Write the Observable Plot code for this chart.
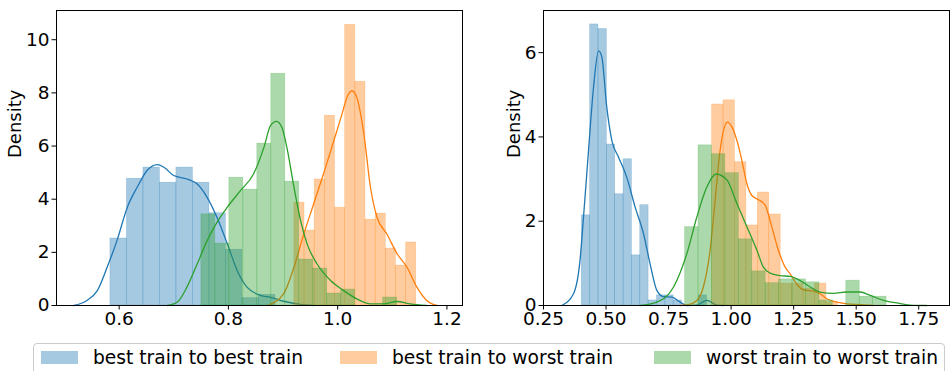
<!DOCTYPE html>
<html><head><meta charset="utf-8">
<script src="https://cdn.jsdelivr.net/npm/d3@7"></script>
<script src="https://cdn.jsdelivr.net/npm/@observablehq/plot@0.6"></script>
<style>
body{margin:0;background:#fff;font-family:"DejaVu Sans",sans-serif;}
#wrap{position:relative;width:950px;height:371px;overflow:hidden;background:#fff;}
#left{position:absolute;left:0;top:0;}
#right{position:absolute;left:475px;top:0;}
#legendBox{position:absolute;left:33px;top:343px;width:912px;height:44px;border:1px solid #cccccc;border-radius:4px;box-sizing:border-box;background:#fff;}
.sw{position:absolute;top:351px;width:37px;height:13px;}
.lt{position:absolute;top:347px;line-height:21px;font-size:18.67px;color:#000;white-space:nowrap;font-family:"DejaVu Sans";}
</style></head>
<body><div id="wrap"><div id="left"></div><div id="right"></div><div id="legendBox"></div></div>
<script>
// ---------- series names & colours ----------
const seriesNames = ["best train to best train", "best train to worst train", "worst train to worst train"];
const seriesColors = ["#1f77b4", "#ff7f0e", "#2ca02c"];

// ---------- left panel: histograms (bin start, bin width, densities) ----------
const L_blueStart = 0.584, L_blueWidth = 0.0302;
const L_blueHeights = [2.52, 4.77, 5.19, 4.62, 5.19, 4.62, 3.47, 2.10, 0.28, 0.40];
const L_orangeStart = 0.9207, L_orangeWidth = 0.0186;
const L_orangeHeights = [3.87, 2.82, 4.74, 7.14, 3.68, 10.56, 8.42, 3.23, 3.46, 2.14, 1.50, 2.37];
const L_greenStart = 0.7505, L_greenWidth = 0.0256;
const L_greenHeights = [3.43, 2.33, 4.81, 4.36, 6.09, 8.72, 4.66, 1.73, 1.39, 0.45, 0.60, 0, 0, 0.30];

// ---------- left panel: KDE curves ----------
const L_blueKdeX = [0.517,0.541,0.560,0.578,0.596,0.615,0.633,0.651,0.670,0.682,0.700,0.724,0.743,0.761,0.779,0.798,0.816,0.834,0.859,0.877,0.901,0.932,0.956];
const L_blueKdeY = [0,0.19,0.56,1.44,2.44,3.70,4.45,5.08,5.30,5.20,4.89,4.76,4.57,4.07,3.32,2.32,1.32,0.69,0.38,0.31,0.16,0.04,0];
const L_orangeKdeX = [0.871,0.901,0.920,0.938,0.956,0.974,0.993,1.008,1.017,1.026,1.035,1.048,1.060,1.072,1.090,1.109,1.127,1.145,1.163,1.182];
const L_orangeKdeY = [0,0.44,1.44,2.69,3.82,4.95,6.20,7.21,7.83,8.08,7.83,6.45,4.45,3.32,2.69,1.94,1.44,0.69,0.19,0];
const L_greenKdeX = [0.688,0.706,0.724,0.743,0.761,0.779,0.798,0.822,0.846,0.865,0.877,0.888,0.898,0.907,0.920,0.932,0.944,0.962,0.987,1.011,1.035,1.060,1.084,1.109,1.133,1.163];
const L_greenKdeY = [0,0.12,0.69,1.57,2.44,3.13,3.70,4.32,4.95,5.95,6.77,6.93,6.70,5.95,4.45,3.20,2.32,1.57,0.94,0.56,0.25,0.06,0.06,0.15,0.06,0];

// ---------- right panel: histograms ----------
const R_blueStart = 0.403, R_blueWidth = 0.0334;
const R_blueHeights = [2.14, 6.67, 6.56, 3.82, 2.64, 3.47, 1.19, 2.38, 0.12, 0.24, 0.24, 0.12, 0, 0, 0.24];
const R_orangeStart = 0.924, R_orangeWidth = 0.0457;
const R_orangeHeights = [4.77, 4.87, 3.40, 1.90, 2.68, 2.16, 0.52, 0.52, 0.40, 0.52, 0.08];
const R_greenStart = 0.816, R_greenWidth = 0.0537;
const R_greenHeights = [1.86, 3.80, 3.59, 3.14, 1.57, 0.81, 0.53, 0.62, 0.62, 0.55, 0.12, 0, 0.59, 0.21, 0.21];

// ---------- right panel: KDE curves ----------
const R_blueKdeX = [0.323,0.370,0.396,0.410,0.430,0.450,0.470,0.483,0.503,0.523,0.550,0.583,0.616,0.650,0.676,0.703,0.730,0.763,0.796,0.823,0.863,0.903,0.943,0.969];
const R_blueKdeY = [0,0.28,1.07,2.10,3.68,5.18,6.04,5.90,4.70,3.92,3.52,3.04,2.34,1.70,0.99,0.36,0.21,0.20,0.08,0,0.01,0.12,0.01,0];
const R_orangeKdeX = [0.796,0.829,0.863,0.889,0.916,0.936,0.956,0.976,0.985,1.003,1.023,1.043,1.063,1.083,1.109,1.136,1.163,1.189,1.216,1.236,1.262,1.289,1.329,1.356,1.382,1.422,1.462,1.516,1.569];
const R_orangeKdeY = [0,0.02,0.12,0.44,1.31,2.49,3.68,4.28,4.35,4.24,3.92,3.44,2.89,2.61,2.51,2.38,1.86,1.31,0.91,0.75,0.51,0.37,0.34,0.28,0.16,0.08,0.04,0.02,0];
const R_greenKdeX = [0.636,0.703,0.770,0.823,0.863,0.903,0.940,0.983,1.023,1.063,1.103,1.129,1.156,1.196,1.236,1.276,1.316,1.356,1.409,1.462,1.516,1.556,1.609,1.662,1.715,1.782];
const R_greenKdeY = [0,0.08,0.44,1.23,2.10,2.81,3.12,2.98,2.42,1.87,1.31,0.91,0.77,0.71,0.69,0.59,0.44,0.32,0.29,0.32,0.32,0.24,0.12,0.06,0.01,0];

// ---------- axes ----------
const L_xDomain = [0.4853, 1.2285], L_yDomain = [0, 11.1];
const L_xTicks = [0.6, 0.8, 1.0, 1.2], L_yTicks = [0, 2, 4, 6, 8, 10];
const R_xDomain = [0.25, 1.873], R_yDomain = [0, 7.0];
const R_xTicks = [0.25, 0.5, 0.75, 1.0, 1.25, 1.5, 1.75], R_yTicks = [0, 2, 4, 6];
const yLabel = "Density";

function binRows(start, width, heights) {
  return heights.map((h, i) => ({x1: start + i * width, x2: start + (i + 1) * width, y: h}));
}
function kdeRows(xs, ys) { return xs.map((x, i) => ({x, y: ys[i]})); }

function panel(o) {
  const marks = [];
  o.series.forEach((s, k) => {
    const c = seriesColors[k];
    marks.push(Plot.rectY(binRows(s.start, s.width, s.heights).filter(d => d.y > 0),
      {x1: "x1", x2: "x2", y: "y", fill: c, fillOpacity: 0.4, stroke: c, strokeOpacity: 0.3, strokeWidth: 0.6, inset: 0}));
    marks.push(Plot.line(kdeRows(s.kx, s.ky), {x: "x", y: "y", stroke: c, strokeWidth: 1.3, curve: "monotone-x"}));
  });
  marks.push(Plot.frame({stroke: "#000", strokeWidth: 1}));
  marks.push(Plot.axisX({ticks: o.xTicks, tickFormat: o.xFmt, tickSize: 4.5, tickPadding: 2, label: null, fontSize: 18.5}));
  marks.push(Plot.axisY({ticks: o.yTicks, tickFormat: d => String(d), tickSize: 4.5, tickPadding: 2.5, label: null, fontSize: 18.5}));
  marks.push(Plot.text([yLabel], {text: d => d, frameAnchor: "left", dx: -o.labelOffset, rotate: -90, fontSize: 18, fill: "#000"}));
  return Plot.plot({
    width: 475, height: 340,
    marginLeft: o.marginLeft, marginRight: o.marginRight, marginTop: 10, marginBottom: 35,
    x: {domain: o.xDomain}, y: {domain: o.yDomain},
    style: {fontFamily: "DejaVu Sans", fontSize: "18px", color: "#000", background: "transparent", overflow: "visible"},
    marks
  });
}

document.getElementById("left").appendChild(panel({
  xDomain: L_xDomain, yDomain: L_yDomain, xTicks: L_xTicks, yTicks: L_yTicks,
  xFmt: d => d.toFixed(1), marginLeft: 56, marginRight: 13, labelOffset: 41,
  series: [
    {start: L_blueStart, width: L_blueWidth, heights: L_blueHeights, kx: L_blueKdeX, ky: L_blueKdeY},
    {start: L_orangeStart, width: L_orangeWidth, heights: L_orangeHeights, kx: L_orangeKdeX, ky: L_orangeKdeY},
    {start: L_greenStart, width: L_greenWidth, heights: L_greenHeights, kx: L_greenKdeX, ky: L_greenKdeY}
  ]
}));
document.getElementById("right").appendChild(panel({
  xDomain: R_xDomain, yDomain: R_yDomain, xTicks: R_xTicks, yTicks: R_yTicks,
  xFmt: d => d.toFixed(2), marginLeft: 68, marginRight: 1, labelOffset: 29,
  series: [
    {start: R_blueStart, width: R_blueWidth, heights: R_blueHeights, kx: R_blueKdeX, ky: R_blueKdeY},
    {start: R_orangeStart, width: R_orangeWidth, heights: R_orangeHeights, kx: R_orangeKdeX, ky: R_orangeKdeY},
    {start: R_greenStart, width: R_greenWidth, heights: R_greenHeights, kx: R_greenKdeX, ky: R_greenKdeY}
  ]
}));

// ---------- legend ----------
const legendSwatchLeft = [41, 340, 654];
const legendTextLeft = [93, 392, 706];
const wrap = document.getElementById("wrap");
seriesNames.forEach((name, k) => {
  const sw = document.createElement("div");
  sw.className = "sw";
  sw.style.left = legendSwatchLeft[k] + "px";
  sw.style.background = seriesColors[k];
  sw.style.opacity = 0.4;
  wrap.appendChild(sw);
  const t = document.createElement("div");
  t.className = "lt";
  t.style.left = legendTextLeft[k] + "px";
  t.textContent = name;
  wrap.appendChild(t);
});
</script></body></html>
